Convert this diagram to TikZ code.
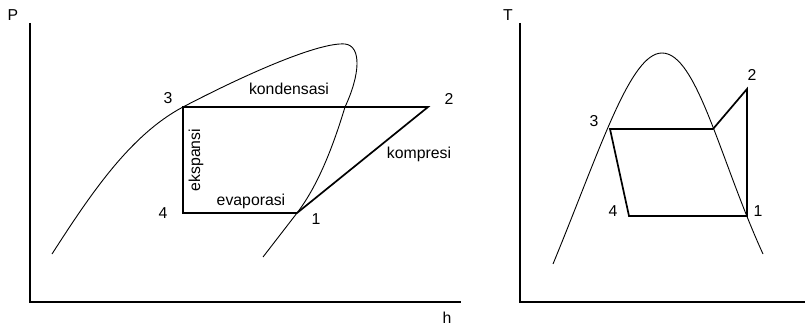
\documentclass[tikz,border=0pt]{standalone}
\usepackage{fontspec}
\setmainfont{Liberation Sans}
\begin{document}
\begin{tikzpicture}[x=1pt,y=-1pt,
  lbl/.style={font=\fontsize{15.8}{18}\selectfont, inner sep=0pt},
  axis/.style={line width=1.8pt},
  cyc/.style={line width=1.7pt, line join=miter},
  sat/.style={line width=0.9pt}]
\useasboundingbox (0,0) rectangle (805,326);
% ---------- left: P-h ----------
\coordinate (Porig) at (30,302);
\coordinate (Ptop) at (30,23);
\coordinate (Pend) at (461,302);
\draw[axis] (Ptop) -- (Porig) -- (Pend);
\node[lbl] (P) at (13,15) {P};
\node[lbl] (h) at (447,318) {h};
\draw[sat] (52,254) .. controls (90,195) and (130,135) .. (183,107)
  .. controls (250,72) and (320,42) .. (345,44)
  .. controls (362,46) and (360,75) .. (345,107)
  .. controls (335,140) and (320,183) .. (297,213) -- (263,257);
\coordinate (L3) at (183,107);
\coordinate (L4) at (183,213);
\coordinate (L1) at (297,213);
\coordinate (L2) at (428,107);
\draw[cyc] (L3) -- (L2) -- (L1) -- (L4) -- cycle;
\node[lbl] (l3) at (168,98) {3};
\node[lbl] (l4) at (163,213) {4};
\node[lbl] (l1) at (316,219) {1};
\node[lbl] (l2) at (449,99) {2};
\node[lbl] (kond) at (289,89) {kondensasi};
\node[lbl] (evap) at (251,201) {evaporasi};
\node[lbl, rotate=90] (eksp) at (196,160) {ekspansi};
\node[lbl] (komp) at (419,154) {kompresi};
% ---------- right: T-s ----------
\coordinate (Torig) at (520,302);
\coordinate (Ttop) at (520,23);
\coordinate (Tend) at (805,302);
\draw[axis] (Ttop) -- (Torig) -- (Tend);
\node[lbl] (T) at (508,15) {T};
\draw[sat] (553,264) .. controls (600,150) and (630,53) .. (662,53)
  .. controls (697,53) and (720,160) .. (763,254);
\coordinate (R3) at (610,129);
\coordinate (Ra) at (713,129);
\coordinate (R2) at (747,89);
\coordinate (R1) at (747,216);
\coordinate (R4) at (629,216);
\draw[cyc] (R3) -- (Ra) -- (R2) -- (R1) -- (R4) -- cycle;
\node[lbl] (r2) at (752,75) {2};
\node[lbl] (r3) at (594,121) {3};
\node[lbl] (r4) at (613,211) {4};
\node[lbl] (r1) at (758,211) {1};
\end{tikzpicture}
\end{document}
